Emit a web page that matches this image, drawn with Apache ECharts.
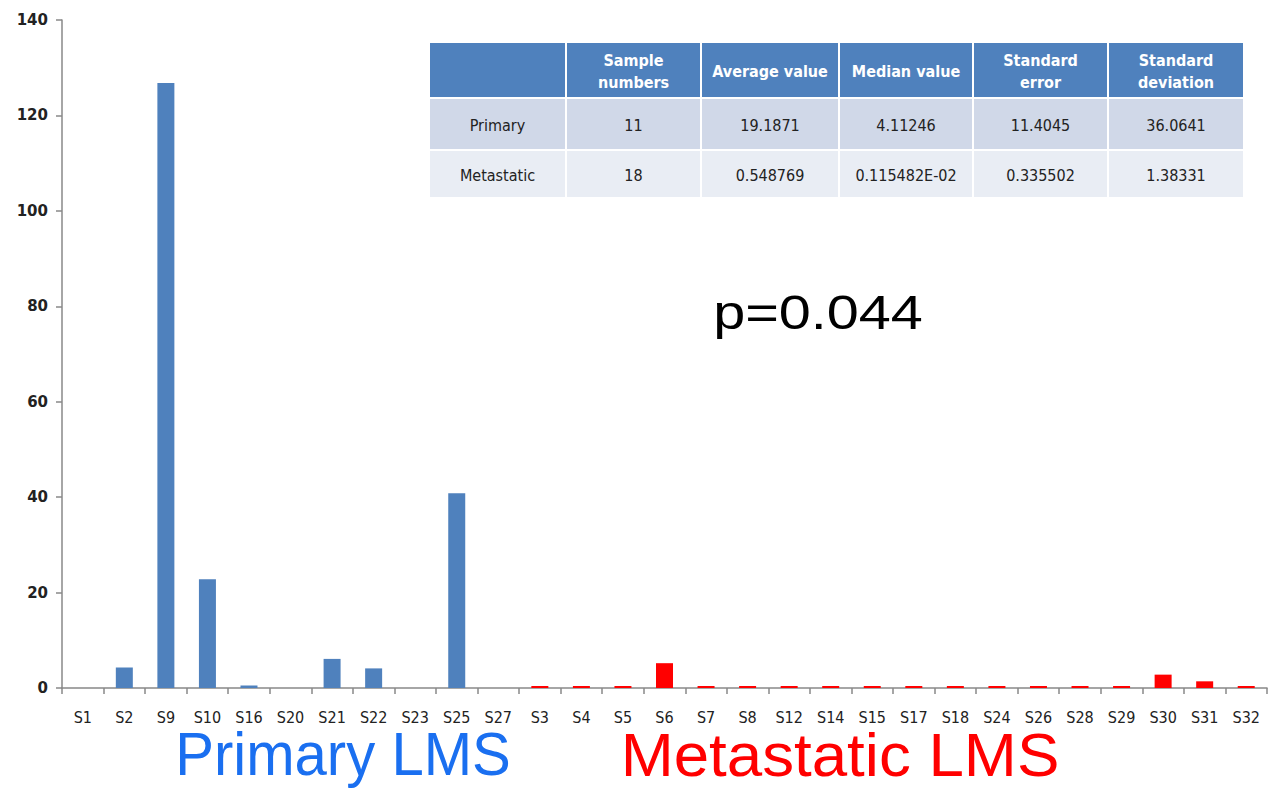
<!DOCTYPE html>
<html>
<head>
<meta charset="utf-8">
<script src="https://cdn.jsdelivr.net/npm/echarts@6/dist/echarts.min.js"></script>
<style>
html,body{margin:0;padding:0;background:#fff;}
#c{width:1276px;height:791px;}
</style>
</head>
<body>
<div id="c"></div>
<script>
// ---- data ----
const primaryCats = ['S1','S2','S9','S10','S16','S20','S21','S22','S23','S25','S27'];
const primaryVals = [0, 4.3, 126.8, 22.8, 0.5, 0, 6.1, 4.11, 0, 40.8, 0];
const metaCats = ['S3','S4','S5','S6','S7','S8','S12','S14','S15','S17','S18','S24','S26','S28','S29','S30','S31','S32'];
const metaVals = [0.03,0.03,0.03,5.2,0.03,0.03,0.03,0.03,0.03,0.03,0.03,0.03,0.03,0.03,0.03,2.8,1.4,0.03];
const yTicks = [0,20,40,60,80,100,120,140];

const tableHeader = ['', 'Sample\nnumbers', 'Average value', 'Median value', 'Standard\nerror', 'Standard\ndeviation'];
const tablePrimary = ['Primary', '11', '19.1871', '4.11246', '11.4045', '36.0641'];
const tableMeta = ['Metastatic', '18', '0.548769', '0.115482E-02', '0.335502', '1.38331'];
const pText = 'p=0.044';
const groupLabels = ['Primary LMS', 'Metastatic LMS'];

// ---- build ----
const cats = primaryCats.concat(metaCats);
const pSeries = primaryVals.concat(metaCats.map(() => '-'));
const mSeries = primaryCats.map(() => '-').concat(metaVals);

const colX = [430, 567, 702, 840, 974, 1109, 1245];
const rowY = [[43, 97], [99, 149], [151, 197]];
const rowFill = ['#4f81bd', '#d0d8e8', '#e9edf4'];
const rows = [tableHeader, tablePrimary, tableMeta];
const graphic = [];
const font = '"Liberation Sans Narrow","DejaVu Sans Condensed","Open Sans",sans-serif';
const bigFont = '"Liberation Sans",Arial,sans-serif';
rows.forEach((row, r) => {
  row.forEach((txt, c) => {
    const x0 = colX[c], x1 = colX[c + 1] - 2;
    const y0 = rowY[r][0], y1 = rowY[r][1];
    graphic.push({
      type: 'rect', shape: {x: x0, y: y0, width: x1 - x0, height: y1 - y0},
      style: {fill: rowFill[r]}, silent: true
    });
    if (txt) {
      graphic.push({
        type: 'text', x: (x0 + x1) / 2, y: (y0 + y1) / 2 + 1,
        style: {
          text: txt, x: 0, y: 0, align: 'center', verticalAlign: 'middle',
          fill: r === 0 ? '#ffffff' : '#222222',
          fontSize: 16, fontWeight: r === 0 ? 'bold' : 'normal',
          fontFamily: font, lineHeight: 22
        }, silent: true
      });
    }
  });
});
graphic.push({
  type: 'text', x: 818, y: 312, scaleX: 1.2,
  style: {text: pText, align: 'center', verticalAlign: 'middle', fill: '#000', fontSize: 48, fontFamily: bigFont}
});
graphic.push({
  type: 'text', x: 343, y: 754, scaleX: 0.937,
  style: {text: groupLabels[0], align: 'center', verticalAlign: 'middle', fill: '#1a6ff0', fontSize: 62, fontFamily: bigFont}
});
graphic.push({
  type: 'text', x: 840, y: 754, scaleX: 1.027,
  style: {text: groupLabels[1], align: 'center', verticalAlign: 'middle', fill: '#ff0000', fontSize: 62, fontFamily: bigFont}
});

const chart = echarts.init(document.getElementById('c'), null, {renderer: 'svg'});
chart.setOption({
  animation: false,
  backgroundColor: '#ffffff',
  grid: {left: 62, right: 9, top: 20, bottom: 103},
  xAxis: {
    type: 'category', data: cats, boundaryGap: true,
    axisLine: {lineStyle: {color: '#888', width: 1.5}},
    axisTick: {show: true, length: 6, lineStyle: {color: '#888', width: 1.5}},
    axisLabel: {interval: 0, color: '#222', fontSize: 16, fontFamily: font, margin: 21}
  },
  yAxis: {
    type: 'value', min: yTicks[0], max: yTicks[yTicks.length - 1], interval: 20,
    axisLine: {show: true, lineStyle: {color: '#888', width: 1.5}},
    axisTick: {show: true, length: 6, lineStyle: {color: '#888', width: 1.5}},
    splitLine: {show: false},
    axisLabel: {color: '#222', fontSize: 15, fontWeight: 'bold', fontFamily: '"DejaVu Sans",sans-serif', margin: 14}
  },
  series: [
    {type: 'bar', data: pSeries, barWidth: 17, barGap: '-100%', itemStyle: {color: '#4f81bd'}},
    {type: 'bar', data: mSeries, barWidth: 17, barGap: '-100%', barMinHeight: 2, itemStyle: {color: '#ff0000'}}
  ],
  graphic: graphic
});
</script>
</body>
</html>
